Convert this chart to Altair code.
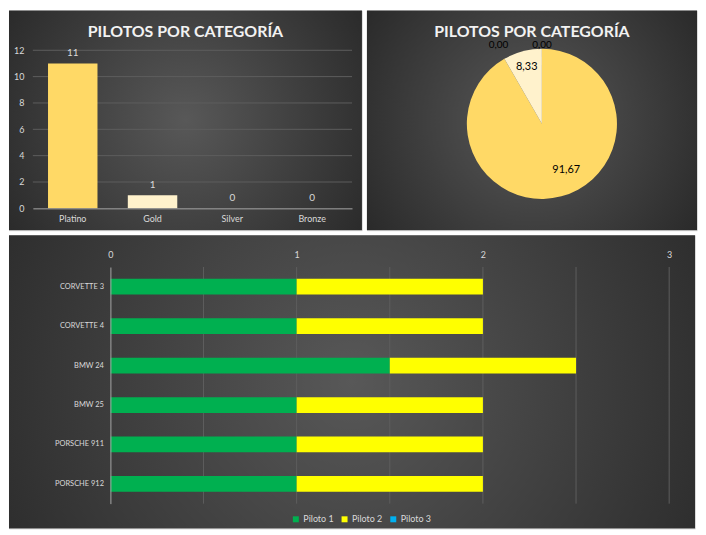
import altair as alt
import pandas as pd

# ---------------- data ----------------
categorias = ["Platino", "Gold", "Silver", "Bronze"]
pilotos_por_categoria = [11, 1, 0, 0]

autos = ["CORVETTE 3", "CORVETTE 4", "BMW 24", "BMW 25", "PORSCHE 911", "PORSCHE 912"]
piloto_1 = [1, 1, 1.5, 1, 1, 1]
piloto_2 = [1, 1, 1, 1, 1, 1]
piloto_3 = [0, 0, 0, 0, 0, 0]
series = ["Piloto 1", "Piloto 2", "Piloto 3"]

ticks_y_categoria = [0, 2, 4, 6, 8, 10, 12]
ticks_x_autos = [0, 0.5, 1, 1.5, 2, 2.5, 3]

titulo = "PILOTOS POR CATEGORÍA"

# ---------------- style ----------------
COL_CAT = ["#FFD966", "#FFF2CC", "#D9D9D9", "#F4B183"]
COL_SERIES = ["#00B050", "#FFFF00", "#00B0F0"]
TXT = "#D9D9D9"
GRID = "#5E5E5E"
AXIS_LINE = "#A6A6A6"
FONT = "Lato"

BG = {
    "gradient": "radial",
    "x1": 0.5, "y1": 0.5, "r1": 0,
    "x2": 0.5, "y2": 0.5, "r2": 0.65,
    "stops": [{"offset": 0, "color": "#585858"}, {"offset": 1, "color": "#262626"}],
}


def fondo(w, h):
    return alt.Chart(alt.Data(values=[{"f": 1}])).mark_rect(fill=BG).encode(
        x=alt.value(0), x2=alt.value(w), y=alt.value(0), y2=alt.value(h)
    )


def titulo_panel():
    return alt.TitleParams(
        text=titulo, anchor="middle", frame="bounds", offset=-42.5,
        baseline="alphabetic", font=FONT, fontSize=16, fontWeight="bold",
        color="#F2F2F2",
    )


df_cat = pd.DataFrame({
    "categoria": categorias,
    "pilotos": pilotos_por_categoria,
    "orden": list(range(len(categorias))),
})

# ---------------- top-left: bar chart (panel 355 x 221) ----------------
P1W, P1H = 355, 221
L1, R1, T1, B1 = 24, 345, 40, 199   # plot area inside the panel
x_cat = alt.X(
    "categoria:N", sort=categorias,
    scale=alt.Scale(paddingInner=0.38, paddingOuter=0.19, range=[L1, R1]),
    axis=alt.Axis(title=None, labelAngle=0, labelColor=TXT, labelFont=FONT,
                  labelFontSize=9, ticks=False, domainColor=AXIS_LINE,
                  domainWidth=1, labelPadding=6, offset=-(P1H - B1), zindex=1),
)
escala_y_cat = alt.Scale(domain=[0, 12], range=[B1, T1])
eje_y_cat = alt.Axis(title=None, values=ticks_y_categoria, grid=False, domain=False,
                     ticks=False, labelColor=TXT, labelFont=FONT, labelFontSize=9,
                     labelPadding=9, offset=-L1, zindex=1)
y_cat = alt.Y("pilotos:Q", scale=escala_y_cat, axis=eje_y_cat)
color_cat = alt.Color("categoria:N", scale=alt.Scale(domain=categorias, range=COL_CAT), legend=None)

grid_tl = alt.Chart(pd.DataFrame({"v": ticks_y_categoria[1:]})).mark_rule(
    color=GRID, strokeWidth=1).encode(
    y=alt.Y("v:Q", scale=escala_y_cat, axis=eje_y_cat),
    x=alt.value(L1), x2=alt.value(R1))
base_tl = alt.Chart(df_cat).encode(x=x_cat, y=y_cat)
bars_tl = base_tl.mark_bar().encode(color=color_cat)
labels_tl = base_tl.mark_text(dy=-10, color=TXT, font=FONT, fontSize=10).encode(text="pilotos:Q")

tl = alt.layer(
    fondo(P1W, P1H), grid_tl, bars_tl, labels_tl
).properties(width=P1W, height=P1H, title=titulo_panel())

# ---------------- top-right: pie chart (panel 332 x 221) ----------------
P2W, P2H = 332, 221
CX, CY, RAD = 176, 114, 75.5
pie_base = alt.Chart(df_cat).transform_joinaggregate(
    total="sum(pilotos)"
).transform_calculate(
    etiqueta="replace(format(datum.pilotos / datum.total * 100, '.2f'), '.', ',')"
).transform_window(
    acum="sum(pilotos)", sort=[alt.SortField("orden", order="ascending")]
).transform_calculate(
    medio="datum.acum - datum.pilotos / 2"
)

arcs = pie_base.mark_arc(outerRadius=RAD).encode(
    theta=alt.Theta("pilotos:Q", stack=True),
    color=alt.Color("categoria:N", scale=alt.Scale(domain=categorias, range=COL_CAT), legend=None),
    order=alt.Order("orden:Q"),
    x=alt.value(CX), y=alt.value(CY),
)


def etiqueta_pie(cat, radio, dx, dy, size=11):
    return pie_base.transform_filter(alt.datum.categoria == cat).mark_text(
        radius=radio, dx=dx, dy=dy, color="#000000", font=FONT, fontSize=size
    ).encode(theta=alt.Theta("medio:Q"), text="etiqueta:N",
             x=alt.value(CX), y=alt.value(CY))


tr = alt.layer(
    fondo(P2W, P2H),
    arcs,
    etiqueta_pie("Platino", 54, 10.5, -5.5),
    etiqueta_pie("Gold", 59, 0, 0),
    etiqueta_pie("Silver", 79, -43.6, 0, 10),
    etiqueta_pie("Bronze", 79, 0, 0, 10),
).properties(width=P2W, height=P2H, title=titulo_panel())

# ---------------- bottom: stacked horizontal bars (panel 690 x 295) ----------------
filas = []
for i, a in enumerate(autos):
    for j, (s, vals) in enumerate(zip(series, [piloto_1, piloto_2, piloto_3])):
        filas.append({"auto": a, "serie": s, "valor": vals[i], "orden": j})
df_autos = pd.DataFrame(filas)

P3W, P3H = 690, 295
L3, R3, T3, B3 = 102, 664, 32, 270

escala_x_autos = alt.Scale(domain=[0, 3], range=[L3, R3])
eje_x_autos = alt.Axis(orient="top", title=None, values=ticks_x_autos,
                       labelExpr="datum.value % 1 === 0 ? format(datum.value, 'd') : ''",
                       grid=False, ticks=False, domain=False, labelFlush=False,
                       labelColor=TXT, labelFont=FONT, labelFontSize=9,
                       labelPadding=8, offset=-T3, zindex=1)

grid_b = alt.Chart(pd.DataFrame({"v": ticks_x_autos[1:]})).mark_rule(
    color=GRID, strokeWidth=1).encode(
    x=alt.X("v:Q", scale=escala_x_autos, axis=eje_x_autos),
    y=alt.value(T3), y2=alt.value(B3))

bars_b = alt.Chart(df_autos).mark_bar().encode(
    x=alt.X("valor:Q", stack="zero", scale=escala_x_autos, axis=eje_x_autos),
    y=alt.Y("auto:N", sort=autos,
            scale=alt.Scale(paddingInner=0.6, paddingOuter=0.3, range=[T3, B3]),
            axis=alt.Axis(title=None, ticks=False, domain=True, domainColor=AXIS_LINE,
                          domainWidth=1, labelColor=TXT, labelFont=FONT,
                          labelFontSize=7.5, labelPadding=7, offset=-L3, zindex=1)),
    color=alt.Color("serie:N", scale=alt.Scale(domain=series, range=COL_SERIES),
                    legend=alt.Legend(orient="none", legendX=284, legendY=281,
                                      direction="horizontal", title=None,
                                      symbolType="square", symbolSize=36,
                                      symbolStrokeWidth=0, labelColor=TXT,
                                      labelFont=FONT, labelFontSize=9,
                                      labelOffset=3, columnPadding=6, padding=0,
                                      zindex=1)),
    order=alt.Order("orden:Q"),
)

bottom = alt.layer(
    fondo(P3W, P3H), grid_b, bars_b
).properties(width=P3W, height=P3H)

top = alt.hconcat(tl, tr, spacing=3).resolve_scale(color="independent")
chart = alt.vconcat(top, bottom, spacing=3).resolve_scale(
    color="independent"
).properties(
    background="#FFFFFF", padding=0
).configure_view(strokeWidth=0).configure(font=FONT)

chart.save("out.html", embed_options={"renderer": "svg", "actions": False})
